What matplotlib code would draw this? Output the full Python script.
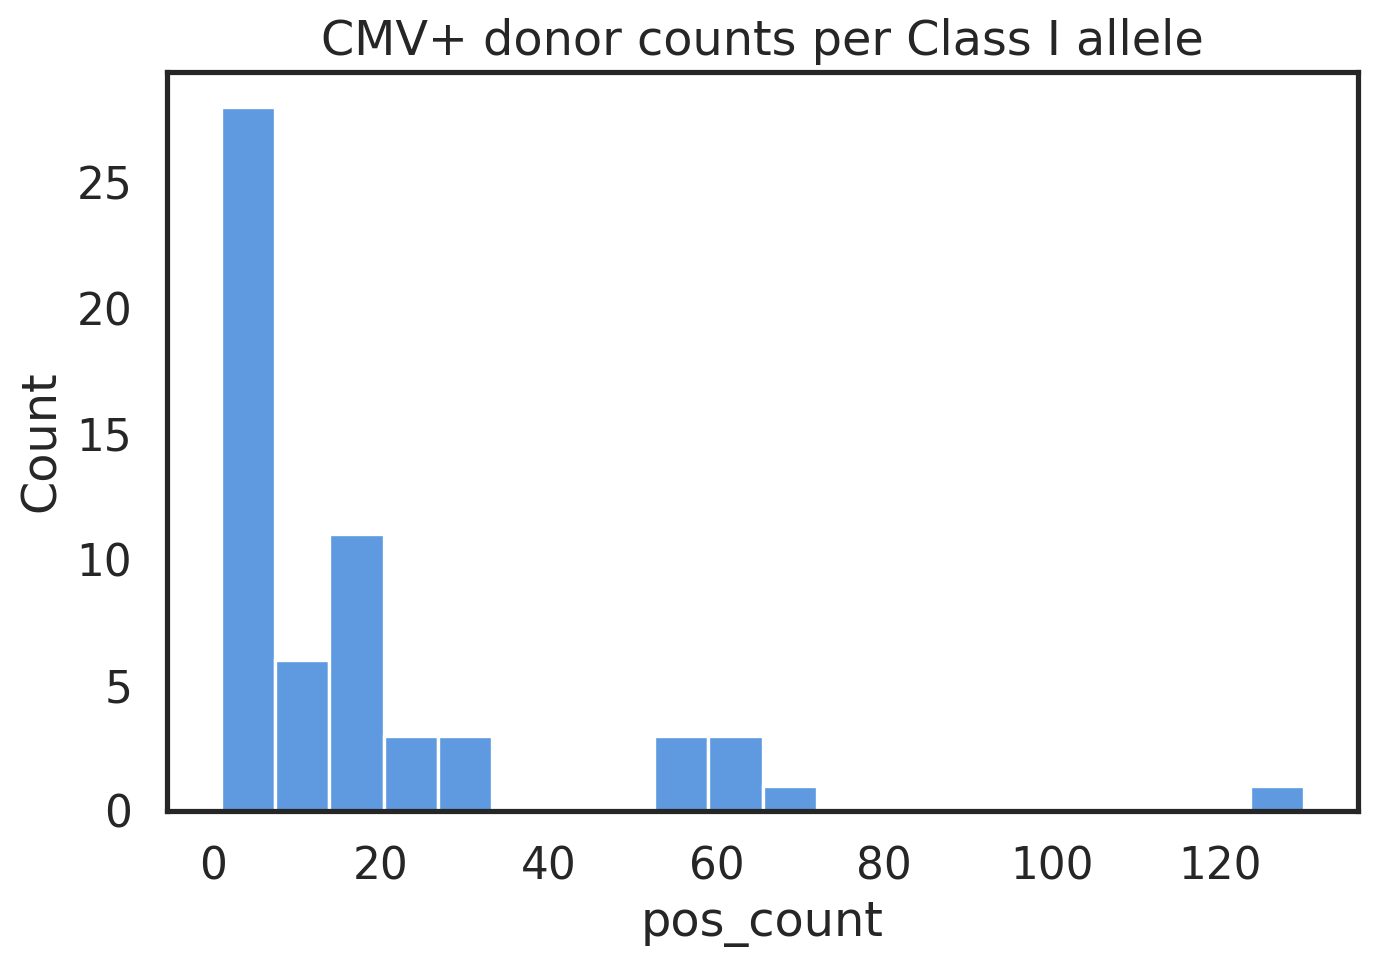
import numpy as np
import seaborn as sns
import matplotlib
matplotlib.use("Agg")
import matplotlib.pyplot as plt

# histogram of CMV+ donor counts per allele
pos_min = 1
pos_max = 130
n_bins = 20
bin_counts = [28, 6, 11, 3, 3, 0, 0, 0, 3, 3, 1, 0, 0, 0, 0, 0, 0, 0, 0, 1]

sns.set_theme(style="white", context="talk", font_scale=0.955)
plt.rcParams['font.family'] = ['DejaVu Sans']

edges = np.linspace(pos_min, pos_max, n_bins + 1)
centers = (edges[:-1] + edges[1:]) / 2

fig = plt.figure(figsize=(6.88, 4.83), dpi=200)
ax = fig.add_axes([0.1214, 0.1605, 0.8655, 0.765])
ax.hist(centers, bins=edges, weights=np.array(bin_counts), color='#5F9AE0',
        edgecolor='white', linewidth=1.2)
for sp in ax.spines.values():
    sp.set_color('#262626')
ax.set_xlabel('pos_count')
ax.set_ylabel('Count')
ax.set_title('CMV+ donor counts per Class I allele')
fig.savefig('out.png', dpi=200)
